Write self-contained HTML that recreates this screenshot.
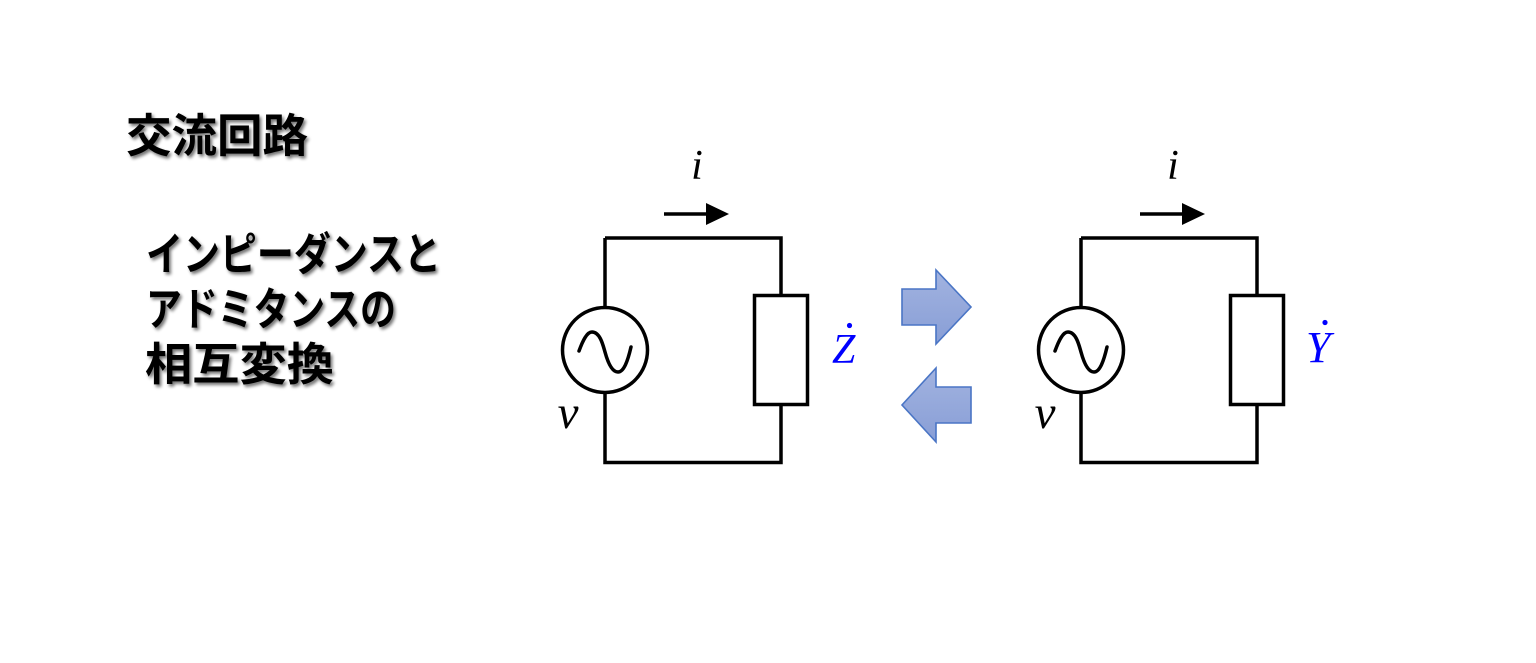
<!DOCTYPE html>
<html>
<head>
<meta charset="utf-8">
<style>
  html,body{margin:0;padding:0;background:#fff;}
  body{width:1536px;height:663px;overflow:hidden;}
  svg{display:block;}
  .jp{font-family:"Liberation Sans","Noto Sans CJK JP",sans-serif;font-weight:bold;fill:#000;}
  .m{font-family:"Liberation Serif",serif;font-style:italic;}
</style>
</head>
<body>
<svg width="1536" height="663" viewBox="0 0 1536 663" xmlns="http://www.w3.org/2000/svg">
  <defs>
    <filter id="sh" x="-10%" y="-20%" width="130%" height="150%">
      <feGaussianBlur in="SourceAlpha" stdDeviation="1.6"/>
      <feOffset dx="2" dy="2.5" result="o"/>
      <feComponentTransfer><feFuncA type="linear" slope="0.55"/></feComponentTransfer>
      <feMerge><feMergeNode/><feMergeNode in="SourceGraphic"/></feMerge>
    </filter>
    <linearGradient id="ag" x1="0" y1="0" x2="0" y2="1">
      <stop offset="0" stop-color="#a2b3e0"/>
      <stop offset="1" stop-color="#889ed6"/>
    </linearGradient>
    <g id="circ">
      <path d="M605,238 H781 V295.5 M781,404.5 V462.5 H605 V238" fill="none" stroke="#000" stroke-width="3.5" stroke-linejoin="miter"/>
      <rect x="754.5" y="295.5" width="53" height="109" fill="#fff" stroke="#000" stroke-width="3.5"/>
      <circle cx="605" cy="350" r="42.5" fill="#fff" stroke="#000" stroke-width="3.5"/>
      <path d="M579,351 C583,340 587,332 592,332 C600,332 603,345 605,352 C608,363 612,372 618,372 C624,372 628,360 631,347" fill="none" stroke="#000" stroke-width="3.5" stroke-linecap="round"/>
      <line x1="664" y1="214" x2="708" y2="214" stroke="#000" stroke-width="3.5"/>
      <polygon points="706,203 729,214 706,225" fill="#000"/>
    </g>
  </defs>

  <!-- Left text -->
  <g filter="url(#sh)">
    <text class="jp" x="126" y="152" font-size="46" textLength="182" lengthAdjust="spacingAndGlyphs">交流回路</text>
    <text class="jp" x="146" y="270" font-size="45" textLength="295" lengthAdjust="spacingAndGlyphs">インピーダンスと</text>
    <text class="jp" x="146" y="325" font-size="45" textLength="250" lengthAdjust="spacingAndGlyphs">アドミタンスの</text>
    <text class="jp" x="145" y="380" font-size="45" textLength="189" lengthAdjust="spacingAndGlyphs">相互変換</text>
  </g>

  <!-- Circuit 1 -->
  <use href="#circ"/>
  <text class="m" x="697" y="179" font-size="42" text-anchor="middle">i</text>
  <text class="m" x="568" y="428" font-size="47" text-anchor="middle">v</text>
  <text class="m" x="832" y="363" font-size="42" fill="#0000ff">Z</text>
  <circle cx="849.5" cy="325.5" r="2.6" fill="#0000ff"/>

  <!-- Circuit 2 -->
  <use href="#circ" transform="translate(476,0)"/>
  <text class="m" x="1173" y="179" font-size="42" text-anchor="middle">i</text>
  <text class="m" x="1045" y="428" font-size="47" text-anchor="middle">v</text>
  <text class="m" x="1306" y="362" font-size="44" fill="#0000ff">Y</text>
  <circle cx="1325" cy="322.5" r="2.6" fill="#0000ff"/>

  <!-- Conversion arrows -->
  <polygon points="902,289 936,289 936,270 971,307 936,344 936,325 902,325" fill="url(#ag)" stroke="#4a75c5" stroke-width="1.6" stroke-linejoin="miter"/>
  <polygon points="971,387 936,387 936,368 902,405 936,442 936,423 971,423" fill="url(#ag)" stroke="#4a75c5" stroke-width="1.6" stroke-linejoin="miter"/>
</svg>
</body>
</html>
